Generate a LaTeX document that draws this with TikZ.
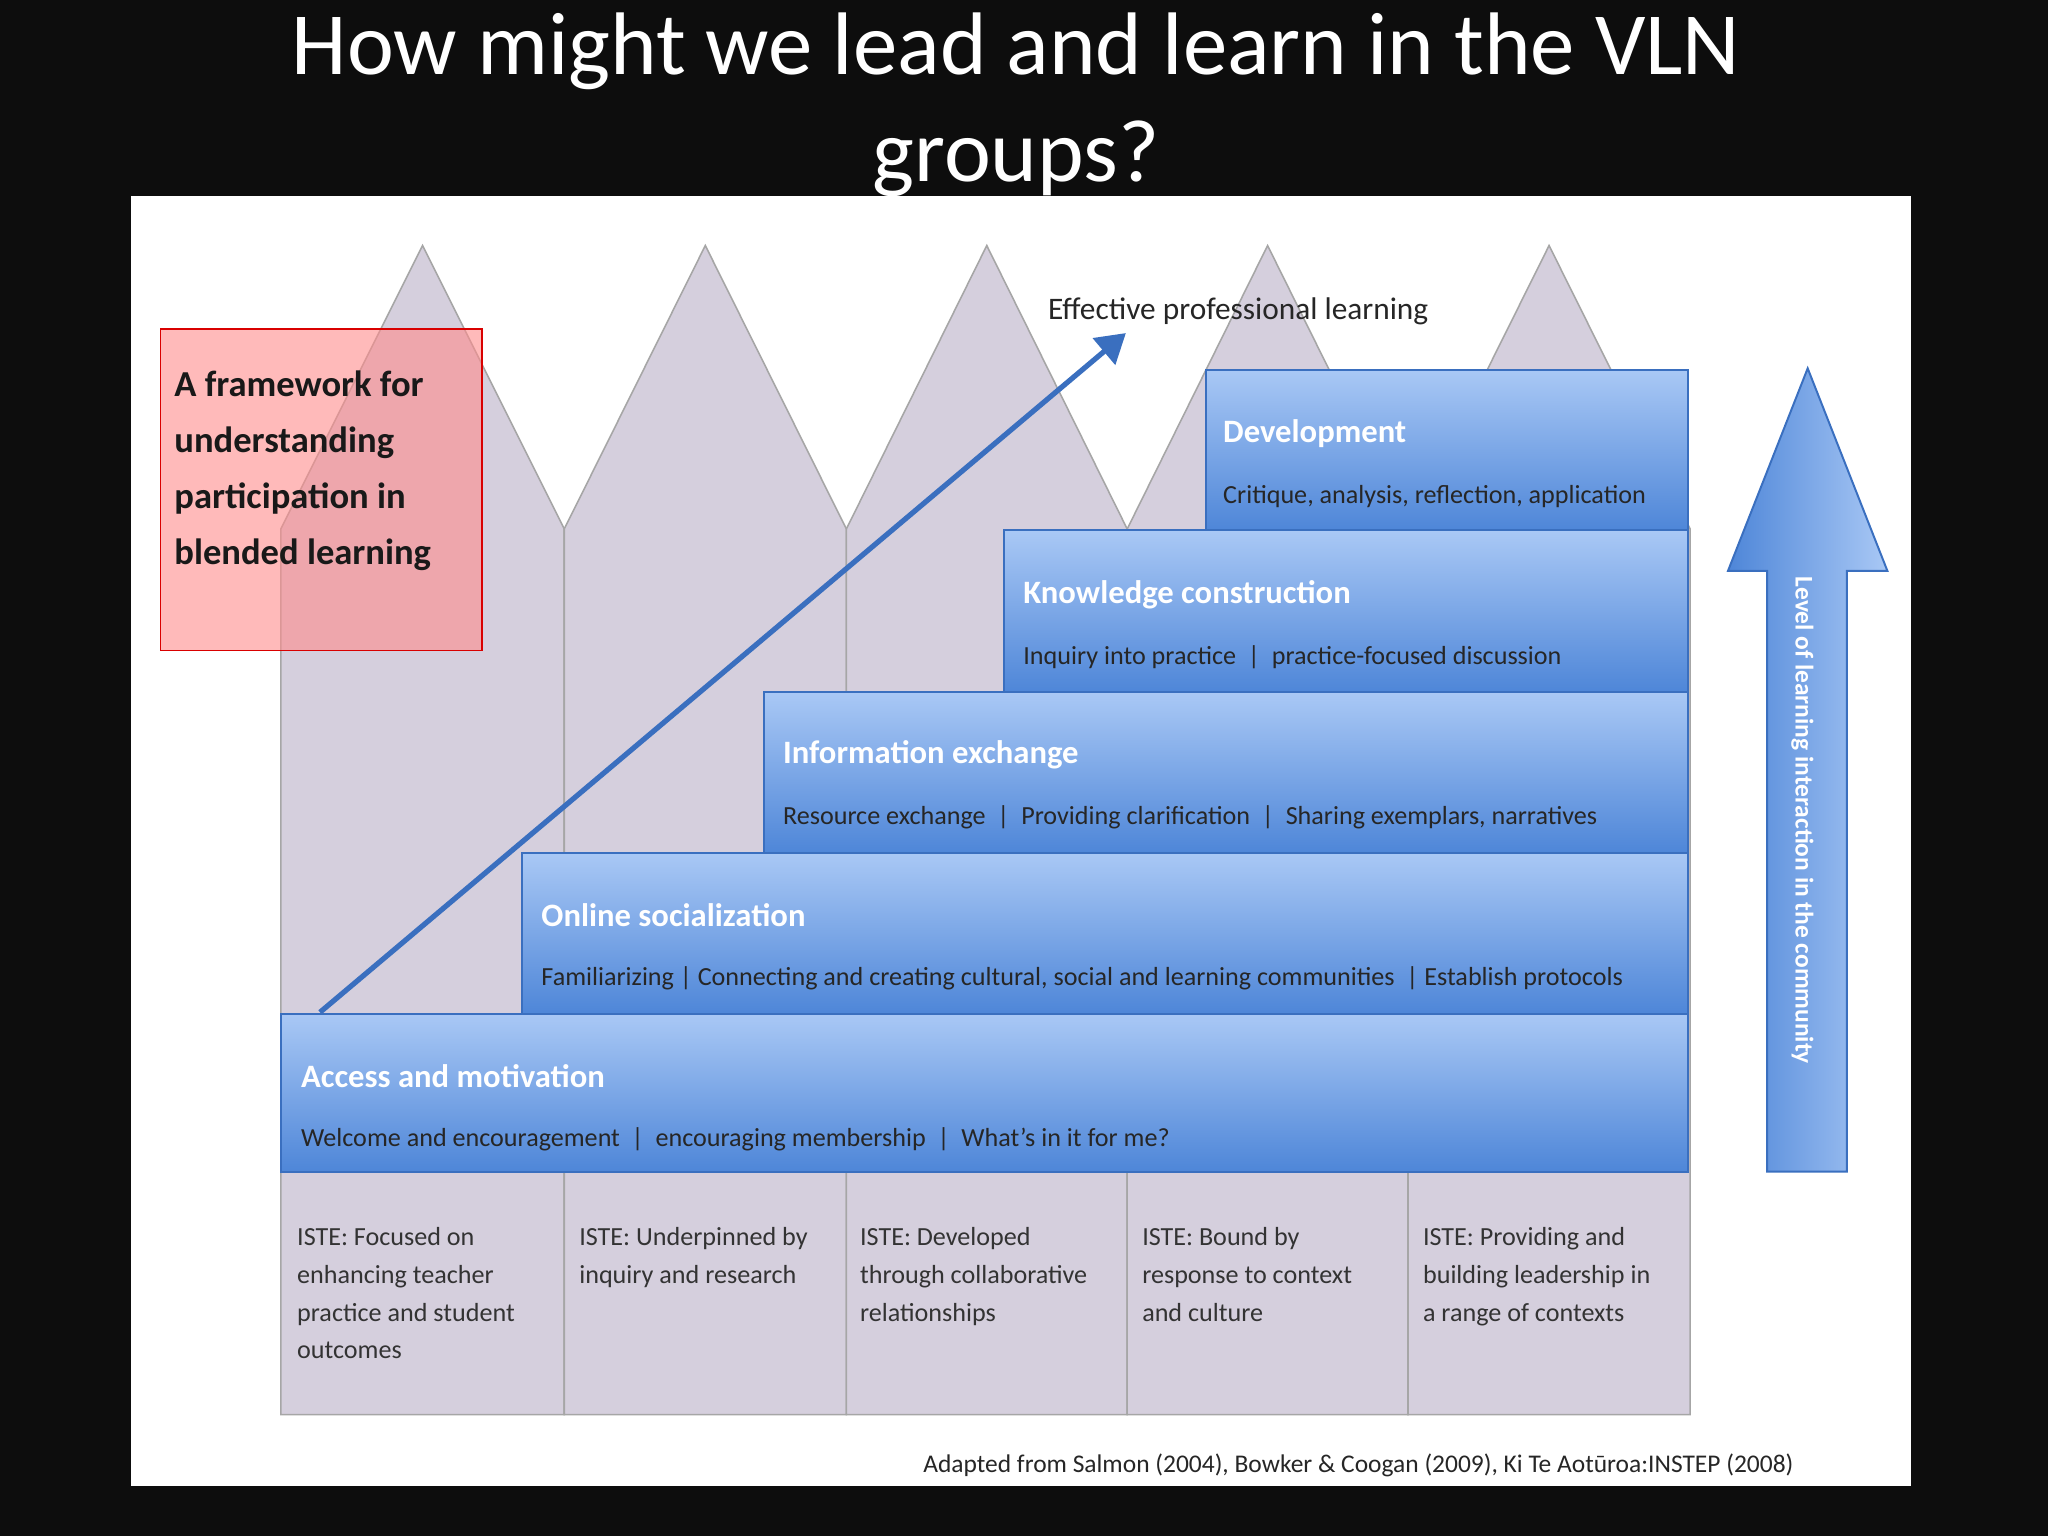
\documentclass[tikz,border=0pt]{standalone}
\usepackage{fontspec}
\setmainfont{Carlito}
\usetikzlibrary{arrows.meta}
\definecolor{col}{HTML}{D5CFDD}
\definecolor{bluetop}{HTML}{A9C8F5}
\definecolor{bluebot}{HTML}{4E86D8}
\definecolor{blueedge}{HTML}{3A6FBF}
\tikzset{
 colm/.style={fill=col,draw=gray!70,line width=1.2pt},
 stepbox/.style={top color=bluetop,bottom color=bluebot,draw=blueedge,line width=1.5pt},
 ttl/.style={anchor=west,text=white,font=\bfseries\fontsize{25}{28}\selectfont},
 sub/.style={anchor=west,text=black!85,font=\fontsize{20}{22}\selectfont},
 captxt/.style={anchor=north west,align=left,text=black!80,font=\fontsize{20}{29}\selectfont},
}
\begin{document}
\begin{tikzpicture}[x=1pt,y=-1pt]
\fill[black!95] (0,0) rectangle (1568,1176);
\useasboundingbox (0,0) rectangle (1568,1176);
\node[text=white,align=center,font=\fontsize{68}{82}\selectfont] (title) at (778,80) {How might we lead and learn in the VLN\\groups?};
\fill[white] (100,150) rectangle (1463,1138);
% columns
\foreach \a/\b in {215/432,432/648,648/863,863/1078,1078/1294}{
 \draw[colm] (\a,1083) -- (\a,405) -- ({(\a+\b)/2},188) -- (\b,405) -- (\b,1083) -- cycle;
}
\node[draw=red!85!black,fill=red!45!white,fill opacity=0.6,text opacity=1,line width=1pt,minimum width=246pt,minimum height=246pt] (frame) at (246,375) {};
\node[anchor=north west,align=left,font=\bfseries\fontsize{28}{43}\selectfont,text=black!90] (ftext) at (130,280) {A framework for\\understanding\\participation in\\blended learning};
% steps
\draw[stepbox] (923,283) rectangle (1292,406);
\node[ttl] (t5) at (933,332) {Development};
\node[sub] (u5) at (933,380) {Critique, analysis, reflection, application};
\draw[stepbox] (769,406) rectangle (1292,530);
\node[ttl] (t4) at (780,455) {Knowledge construction};
\node[sub] (u4) at (780,503) {Inquiry into practice \ | \ practice-focused discussion};
\draw[stepbox] (585,530) rectangle (1292,653);
\node[ttl] (t3) at (596,578) {Information exchange};
\node[sub] (u3) at (596,626) {Resource exchange \ | \ Providing clarification \ | \ Sharing exemplars, narratives};
\draw[stepbox] (400,653) rectangle (1292,776);
\node[ttl] (t2) at (411,701) {Online socialization};
\node[sub] (u2) at (411,749) {Familiarizing | Connecting and creating cultural, social and learning communities \ | Establish protocols};
\draw[stepbox] (215,776) rectangle (1292,897);
\node[ttl] (t1) at (227,824) {Access and motivation};
\node[sub] (u1) at (227,872) {Welcome and encouragement \ | \ encouraging membership \ | \ What's in it for me?};
% diagonal arrow
\coordinate (da) at (245,775);
\node[font=\fontsize{24}{26}\selectfont,text=black!85] (epl) at (948,238) {Effective professional learning};
\coordinate (db) at (862,255);
\draw[blueedge,line width=4pt,-{Triangle[length=22pt,width=26pt]}] (da) -- (db);
% big up arrow
\draw[draw=blueedge,line width=1.5pt,left color=bluebot,right color=bluetop] (1353,897) -- (1353,437) -- (1323,437) -- (1384,282) -- (1445,437) -- (1414,437) -- (1414,897) -- cycle;
\node[rotate=-90,text=white,font=\bfseries\fontsize{19.5}{21}\selectfont] (lvl) at (1380,628) {Level of learning interaction in the community};
% captions
\node[captxt] (c1) at (224,936) {ISTE: Focused on\\enhancing teacher\\practice and student\\outcomes};
\node[captxt] (c2) at (440,936) {ISTE: Underpinned by\\inquiry and research};
\node[captxt] (c3) at (655,936) {ISTE: Developed\\through collaborative\\relationships};
\node[captxt] (c4) at (871,936) {ISTE: Bound by\\response to context\\and culture};
\node[captxt] (c5) at (1086,936) {ISTE: Providing and\\building leadership in\\a range of contexts};
\node[font=\fontsize{19.5}{21}\selectfont,text=black!85] (cite) at (1040,1122) {Adapted from Salmon (2004), Bowker \& Coogan (2009), Ki Te Aotūroa:INSTEP (2008)};
\end{tikzpicture}
\end{document}
